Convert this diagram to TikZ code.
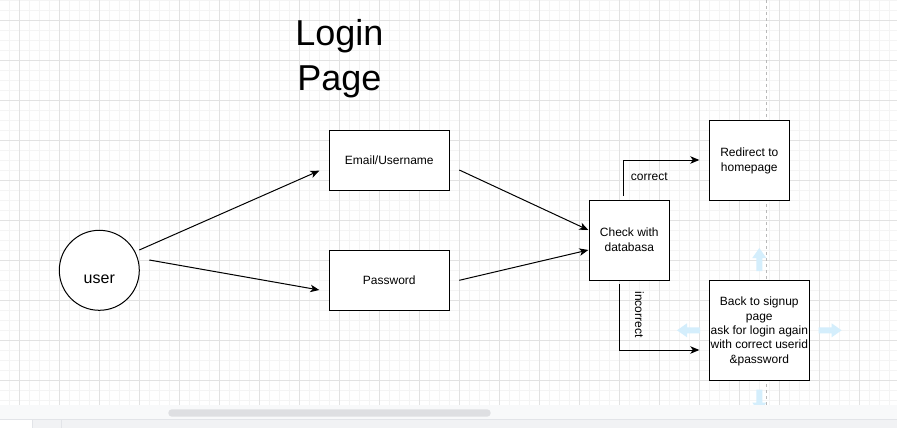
\documentclass[tikz,border=0pt]{standalone}
\usepackage{fontspec}
\setmainfont{Liberation Sans}
\usetikzlibrary{arrows.meta,calc}

\definecolor{gridminor}{RGB}{244,244,244}
\definecolor{gridmajor}{RGB}{226,226,226}
\definecolor{pagebreak}{RGB}{185,185,185}
\definecolor{hoverblue}{RGB}{212,238,252}
\definecolor{trackgray}{RGB}{248,249,250}
\definecolor{thumbgray}{RGB}{222,223,226}
\definecolor{bargray}{RGB}{241,242,244}
\definecolor{barline}{RGB}{226,228,232}

% struts giving each text line a 1.2 line height with the baseline placed as in a browser
\newcommand\txtstrut{\rule[-3.04pt]{0pt}{14.4pt}}
\newcommand\titlestrut{\rule[-10.63pt]{0pt}{44.7pt}}

\begin{document}
\begin{tikzpicture}[x=1pt,y=-1pt,
  box/.style={draw, fill=white, line width=1pt, inner sep=0pt, outer sep=0pt,
    align=center, font={\fontsize{12}{14.4}\selectfont}},
  lbl/.style={inner sep=0pt, outer sep=0pt, font={\fontsize{12}{14.4}\selectfont}},
  conn/.style={line width=1pt, -{Stealth[length=9pt,width=7.5pt,inset=2.5pt]}},
  hoverarrow/.pic={\fill[hoverblue] (0,0) -- (10,-7) -- (10,-3) -- (23,-3) -- (23,3) -- (10,3) -- (10,7) -- cycle;}
]
\useasboundingbox (0,0) rectangle (897,428);
\fill[white] (0,0) rectangle (897,428);

% background grid
\foreach \i in {0,...,88} \draw[gridminor, line width=1pt] ({9.3+10*\i},0) -- ({9.3+10*\i},405.3);
\foreach \j in {0,...,40} \draw[gridminor, line width=1pt] (0,{0.6+10*\j}) -- (897,{0.6+10*\j});
\foreach \i in {0,...,21} \draw[gridmajor, line width=1pt] ({19.3+40*\i},0) -- ({19.3+40*\i},405.3);
\foreach \j in {0,...,9} \draw[gridmajor, line width=1pt] (0,{20.6+40*\j}) -- (897,{20.6+40*\j});

% page break
\draw[pagebreak, line width=1pt, dash pattern=on 3pt off 3pt] (766.7,0) -- (766.7,405.3);

% title
\node[inner sep=0pt, outer sep=0pt, align=center, font={\fontsize{36}{44.7}\selectfont}]
  (title) at (339.3,56.6) {\titlestrut Login\\\titlestrut Page};

% shapes
\node[draw, fill=white, circle, line width=1pt, minimum size=80pt, inner sep=0pt, outer sep=0pt,
  font={\fontsize{16}{19.2}\selectfont}] (user) at (99.3,270.3) {\rule[-4pt]{0pt}{34pt}user};
\node[box, minimum width=120pt, minimum height=60pt] (email) at (389.3,160.3) {\txtstrut Email/Username};
\node[box, minimum width=120pt, minimum height=60pt] (password) at (389.3,280.3) {\txtstrut Password};
\node[box, minimum width=80pt, minimum height=80pt] (check) at (629.3,240) {\txtstrut Check with\\\txtstrut databasa};
\node[box, minimum width=80pt, minimum height=80pt] (redirect) at (749.3,160) {\txtstrut Redirect to\\\txtstrut homepage};
\node[box, minimum width=100pt, minimum height=100pt] (back) at (759.3,330.3)
  {\txtstrut Back to signup\\\txtstrut page\\\txtstrut ask for login again\\\txtstrut with correct userid\\\txtstrut \&password};

% connectors
\draw[conn] ($(user.center)+(40,-20.3)$) -- ($(email.west)+(-10,10.4)$);
\draw[conn] ($(user.center)+(50,-10.3)$) -- ($(password.west)+(-10,9.7)$);
\draw[conn] ($(email.east)+(10,9.7)$) -- ($(check.west)+(-1,-10)$);
\draw[conn] ($(password.east)+(10,0)$) -- ($(check.west)+(-1,10)$);
\draw[conn] ($(check.north)+(-6,-4)$) |- ($(redirect.west)+(-10,0)$);
\draw[conn] ($(check.south)+(-10,4)$) |- ($(back.west)+(-10,19.7)$);

% connector labels
\node[lbl, anchor=base] (lblcorrect) at (649.3,180) {correct};
\node[lbl, anchor=base, rotate=-90] (lblincorrect) at (635,314.5) {incorrect};

% hover arrows around the selected shape
\pic[rotate=-90] at ($(back.center)+(0,-82.3)$) {hoverarrow};
\pic[rotate=90] at ($(back.center)+(0,82.3)$) {hoverarrow};
\pic at ($(back.center)+(-82.3,0)$) {hoverarrow};
\pic[rotate=180] at ($(back.center)+(82.3,0)$) {hoverarrow};

% scrollbar and bottom bar
\fill[trackgray] (0,405.3) rectangle (897,419);
\draw[barline, line width=1pt] (0,419.3) -- (897,419.3);
\fill[bargray] (32.3,419.8) rectangle (897,428);
\draw[barline, line width=1pt] (32.3,419.8) -- (32.3,428);
\draw[barline, line width=1pt] (61.7,419.8) -- (61.7,428);
\fill[thumbgray, rounded corners=3.6pt] (168.3,409.3) rectangle (490.7,416.7);
\end{tikzpicture}
\end{document}
